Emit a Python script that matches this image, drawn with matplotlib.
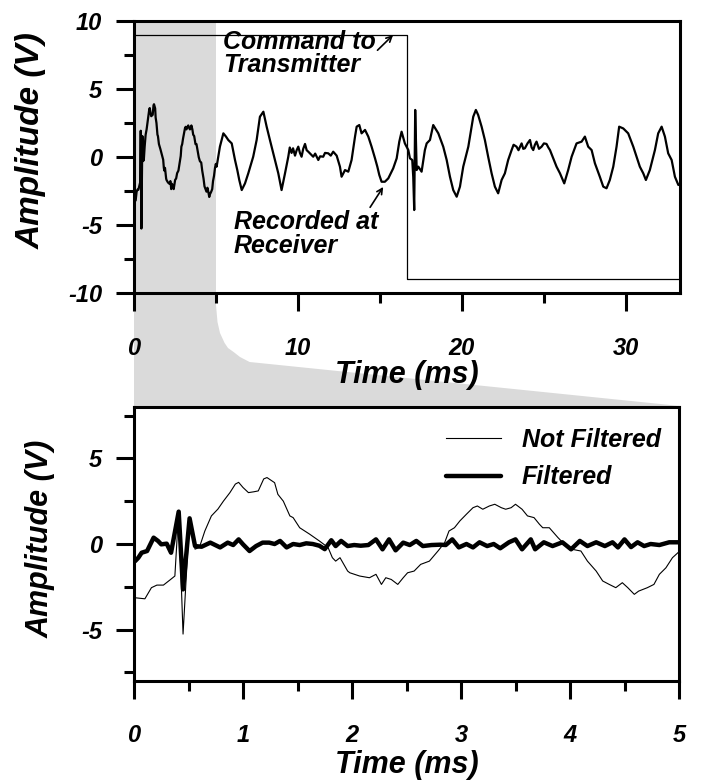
import matplotlib
matplotlib.use("Agg")
import matplotlib.pyplot as plt
from matplotlib.patches import Polygon
from matplotlib.ticker import MultipleLocator

plt.rcParams['font.family'] = ['Liberation Sans', 'DejaVu Sans']
plt.rcParams['font.weight'] = 'bold'
plt.rcParams['font.style'] = 'italic'
plt.rcParams['axes.unicode_minus'] = False

# ---------------- data ----------------
# Not filtered signal, first 5 ms (ms, V)
nf_t = [0.01, 0.10, 0.16, 0.21, 0.27, 0.33, 0.375, 0.41, 0.45, 0.51, 0.56, 0.60,
        0.65, 0.71, 0.77, 0.82, 0.88, 0.93, 0.96, 1.00, 1.05, 1.10, 1.14, 1.19, 1.22,
        1.29, 1.32, 1.37, 1.43, 1.46, 1.52, 1.61, 1.70, 1.78, 1.82, 1.85, 1.89, 1.96,
        1.98, 2.07, 2.16, 2.22, 2.27, 2.31, 2.36, 2.42, 2.47, 2.51, 2.57, 2.63, 2.71,
        2.79, 2.85, 2.89, 2.94, 2.99, 3.05, 3.11, 3.15, 3.20, 3.26, 3.31, 3.37, 3.41,
        3.46, 3.50, 3.56, 3.61, 3.67, 3.72, 3.75, 3.81, 3.89, 3.95, 4.02, 4.10, 4.16,
        4.24, 4.30, 4.36, 4.42, 4.48, 4.53, 4.59, 4.63, 4.71, 4.77, 4.82, 4.88, 4.94, 4.99]
nf_v = [-3.14, -3.2, -2.55, -2.4, -2.4, -2.1, -1.87, 1.93, -5.26, 1.54, -0.3, -0.2,
        0.76, 1.64, 2.04, 2.5, 3.0, 3.5, 3.6, 3.3, 3.0, 3.05, 3.1, 3.8, 3.88,
        3.58, 2.9, 2.5, 1.64, 1.54, 0.95, 0.58, 0.18, -0.2, -0.8, -1.0, -0.8, -1.58,
        -1.68, -1.87, -1.97, -1.77, -2.36, -1.97, -2.07, -2.36, -1.97, -1.68, -1.58, -1.19, -1.0,
        -0.4, 0.08, 0.76, 0.95, 1.35, 1.74, 2.12, 2.22, 2.03, 2.22, 2.32, 2.12, 2.03,
        2.12, 2.32, 2.03, 1.64, 1.54, 1.15, 0.95, 0.95, 0.37, -0.02, -0.31, -0.41, -1.0,
        -1.58, -2.16, -2.36, -2.55, -2.26, -2.55, -2.94, -2.75, -2.55, -2.36, -1.77, -1.39, -0.8, -0.51]

# Filtered signal, first 5 ms
f_t = [0.01, 0.04, 0.07, 0.12, 0.18, 0.22, 0.25, 0.30, 0.34, 0.41, 0.45, 0.51, 0.56,
       0.62, 0.70, 0.79, 0.86, 0.91, 0.96, 1.00, 1.06, 1.12, 1.18, 1.24, 1.29, 1.34,
       1.40, 1.46, 1.52, 1.58, 1.64, 1.70, 1.75, 1.81, 1.85, 1.90, 1.96, 2.02, 2.08,
       2.15, 2.22, 2.28, 2.34, 2.40, 2.47, 2.53, 2.59, 2.65, 2.73, 2.81, 2.86, 2.92,
       2.98, 3.05, 3.11, 3.17, 3.24, 3.30, 3.36, 3.44, 3.50, 3.56, 3.64, 3.68, 3.76,
       3.84, 3.93, 4.01, 4.09, 4.16, 4.24, 4.32, 4.39, 4.44, 4.50, 4.56, 4.62, 4.68,
       4.74, 4.82, 4.91, 4.99]
f_v = [-1.0, -0.8, -0.51, -0.41, 0.37, 0.18, -0.02, 0.02, -0.51, 1.89, -2.65, 1.5, -0.12,
       -0.16, 0.08, -0.2, 0.08, -0.06, 0.27, -0.02, -0.41, -0.12, 0.08, 0.08, 0.0, 0.18,
       -0.2, 0.0, -0.06, 0.04, 0.0, -0.1, -0.3, 0.22, -0.12, 0.18, -0.12, -0.06, -0.1,
       -0.06, 0.27, -0.31, 0.27, -0.37, 0.08, -0.06, 0.18, -0.12, -0.06, -0.04, -0.06, 0.27,
       -0.2, 0.0, -0.2, 0.1, -0.12, 0.0, -0.25, 0.1, 0.27, -0.31, 0.27, -0.31, 0.1,
       -0.12, 0.1, -0.31, 0.18, -0.12, 0.1, -0.12, 0.1, -0.2, 0.27, -0.18, 0.1, -0.12,
       0.0, -0.06, 0.1, 0.1]

# Received signal after 5 ms (ms, V)
rx_t = [5.04, 5.24, 5.45, 5.61, 5.75, 5.96, 6.16, 6.30, 6.42, 6.57, 6.77, 6.97, 7.27,
        7.48, 7.68, 7.89, 8.09, 8.29, 8.60, 8.80, 9.00, 9.21,
        9.41, 9.50, 9.61, 9.70, 9.82, 9.92, 10.02, 10.12, 10.22, 10.32, 10.43, 10.53,
        10.63, 10.78, 10.93, 11.05, 11.24, 11.35, 11.54, 11.65, 11.85, 12.00, 12.15, 12.36,
        12.56, 12.66, 12.87, 13.07, 13.27, 13.48, 13.58, 13.74, 13.88, 14.09, 14.29, 14.49,
        14.70, 14.84, 14.96, 15.10, 15.30, 15.51, 15.81, 16.02, 16.18, 16.32, 16.52, 16.73,
        16.83, 16.97, 17.03, 17.09, 17.15, 17.24, 17.34, 17.54, 17.74, 17.85, 18.05, 18.25,
        18.56, 18.86, 19.07, 19.27, 19.47, 19.68, 19.88, 20.08, 20.39, 20.69, 20.85, 20.99,
        21.20, 21.40, 21.60, 21.81, 22.01, 22.21, 22.42, 22.62, 22.82,
        23.03, 23.15, 23.33, 23.45, 23.64, 23.74, 23.84, 24.00, 24.15, 24.25, 24.35, 24.45,
        24.55, 24.70, 24.86, 25.00, 25.16, 25.27, 25.37,
        25.57, 25.77, 25.98, 26.24, 26.48,
        26.69, 26.99, 27.30, 27.50, 27.70, 27.91, 28.11, 28.41, 28.62, 28.82, 29.02, 29.23,
        29.43, 29.59, 29.84, 30.14, 30.45, 30.65, 30.85, 31.06, 31.22, 31.46, 31.77, 31.97,
        32.18, 32.38, 32.58, 32.79, 32.99, 33.20, 33.34]
rx_v = [-0.71, 0.76, 1.74, 1.5, 1.25, 1.0, -0.22, -0.96, -1.69, -2.43, -1.94, -1.2, 0.02,
        1.25, 2.96, 3.33, 2.23, 1.25, -0.22, -1.2, -2.43, -1.2,
        0.02, 0.7, 0.3, 0.64, 0.1, 0.5, 0.76, 0.3, 0.02, 0.6, 0.96, 0.5,
        0.39, 0.2, 0.02, 0.25, -0.22, 0.05, 0.02, 0.3, 0.27, 0.1, 0.39, 0.1,
        -0.71, -1.45, -0.96, -1.08, -0.22, 1.5, 2.23, 2.35, 1.74, 1.99, 1.5, 0.76,
        -0.1, -0.71, -1.32, -1.82, -1.82, -1.57, -0.83, -0.1, 1.13, 1.86, 1.0, 0.51,
        -0.1, -0.22, -1.45, -3.9, 3.46, -0.96, -0.71, -1.08, 0.51, 1.0, 1.25, 2.35,
        1.74, 0.76, -0.22, -1.45, -2.43, -2.92, -2.18, -0.71, 0.76, 2.96, 3.46, 3.09,
        2.23, 1.25, 0.02, -1.2, -2.18, -2.67, -1.69, -1.2, -0.22,
        0.51, 0.9, 0.76, 0.5, 1.0, 0.6, 0.64, 1.0, 1.25, 0.7, 0.51, 0.9,
        1.13, 0.6, 0.76, 1.0, 0.96, 0.7, 0.51,
        -0.1, -0.71, -1.2, -1.94, -0.96,
        0.02, 1.0, 1.13, 1.5, 0.76, 0.51, -0.46, -1.45, -2.18, -2.3, -1.69, -0.71,
        0.76, 2.23, 2.1, 1.74, 0.76, 0.02, -0.71, -1.2, -1.69, -0.96, 0.51, 1.74,
        2.23, 1.5, 0.27, -0.22, -1.45, -2.06, -1.94]

# Command to transmitter (square step)
cmd_t = [0.0, 16.65, 16.65, 33.5]
cmd_v = [9.0, 9.0, -9.0, -9.0]

zoom_window = (0.0, 5.0)

top_xticks = [0, 10, 20, 30]
top_yticks = [-10, -5, 0, 5, 10]
bot_xticks = [0, 1, 2, 3, 4, 5]
bot_yticks = [-5, 0, 5]

# ---------------- figure ----------------
W, H = 701, 780
fig = plt.figure(figsize=(W / 100, H / 100), dpi=100)

def fx(px):
    return px / W

def fy(py):
    return 1 - py / H

ax1 = fig.add_axes([fx(134), fy(293), fx(680) - fx(134), fy(21) - fy(293)])
ax2 = fig.add_axes([fx(134), fy(681), fx(679) - fx(134), fy(407) - fy(681)])

gray = '#dadada'
tick_fs = 17
label_fs = 22

def style(ax, xpad):
    for s in ['top', 'right', 'left', 'bottom']:
        ax.spines[s].set_linewidth(2.2)
    ax.tick_params(which='major', direction='out', length=13, width=2.2,
                   labelsize=tick_fs, top=False, right=False)
    ax.tick_params(which='minor', direction='out', length=7, width=2.2,
                   top=False, right=False)
    ax.tick_params(axis='x', which='major', pad=xpad)
    ax.tick_params(axis='y', which='major', pad=10)
    for lab in ax.get_xticklabels() + ax.get_yticklabels():
        lab.set_fontweight('bold')
        lab.set_fontstyle('italic')

# ---- top axes ----
ax1.axvspan(zoom_window[0], zoom_window[1], color=gray, lw=0, zorder=0)
ax1.plot(cmd_t, cmd_v, color='black', lw=0.9, zorder=2)
ax1.plot(nf_t + rx_t, nf_v + rx_v, color='black', lw=1.6, zorder=3)
ax1.set_xlim(0, 33.3)
ax1.set_ylim(-10, 10)
ax1.set_xticks(top_xticks)
ax1.set_yticks(top_yticks)
ax1.xaxis.set_minor_locator(MultipleLocator(5))
ax1.yaxis.set_minor_locator(MultipleLocator(2.5))
style(ax1, 19)
ax1.set_xlabel('Time (ms)', fontsize=label_fs, fontweight='bold', fontstyle='italic')
ax1.set_ylabel('Amplitude (V)', fontsize=24, fontweight='bold', fontstyle='italic')
ax1.xaxis.set_label_coords(0.5, -0.245)
ax1.yaxis.set_label_coords(-0.16, 0.56)

arrow_kw = dict(arrowstyle='->', color='black', lw=1.2, shrinkA=0, shrinkB=0)
ax1.annotate('', xy=(15.8, 8.97), xytext=(14.85, 7.85), arrowprops=arrow_kw)
ax1.text(5.43, 7.6, 'Command to\nTransmitter', fontsize=18, fontweight='bold',
         fontstyle='italic', ha='left', va='center', linespacing=0.95)
ax1.annotate('', xy=(15.2, -2.2), xytext=(14.4, -3.7), arrowprops=arrow_kw)
ax1.text(6.1, -5.66, 'Recorded at\nReceiver', fontsize=18, fontweight='bold',
         fontstyle='italic', ha='left', va='center', linespacing=0.95)

# ---- bottom axes ----
ax2.plot(nf_t, nf_v, color='black', lw=0.8, label='Not Filtered', zorder=2)
ax2.plot(f_t, f_v, color='black', lw=3.2, label='Filtered', zorder=3,
         solid_joinstyle='round', solid_capstyle='round')
ax2.set_xlim(0, 5)
ax2.set_ylim(-8, 8)
ax2.set_xticks(bot_xticks)
ax2.set_yticks(bot_yticks)
ax2.xaxis.set_minor_locator(MultipleLocator(0.5))
ax2.yaxis.set_minor_locator(MultipleLocator(2.5))
style(ax2, 18)
ax2.set_xlabel('Time (ms)', fontsize=label_fs, fontweight='bold', fontstyle='italic')
ax2.set_ylabel('Amplitude (V)', fontsize=label_fs, fontweight='bold', fontstyle='italic')
ax2.xaxis.set_label_coords(0.5, -0.25)
ax2.yaxis.set_label_coords(-0.143, 0.52)
leg = ax2.legend(loc='upper left', bbox_to_anchor=(0.572, 0.925), frameon=False,
                 prop=dict(family='Liberation Sans', weight='bold', style='italic', size=18),
                 handlelength=2.2, handletextpad=0.85, labelspacing=0.55, borderpad=0,
                 borderaxespad=0)

# ---- zoom funnel between the panels ----
funnel_px = [(134, 293), (216, 293), (216, 305), (217.5, 322), (220, 333), (224.6, 343),
             (228, 348), (233.6, 352), (240, 357), (249.6, 362), (680, 406), (134, 406)]
poly = Polygon([(fx(x), fy(y)) for x, y in funnel_px], closed=True,
               transform=fig.transFigure, facecolor=gray, edgecolor='none', zorder=-1)
fig.patches.append(poly)

fig.savefig('out.png', dpi=100)
